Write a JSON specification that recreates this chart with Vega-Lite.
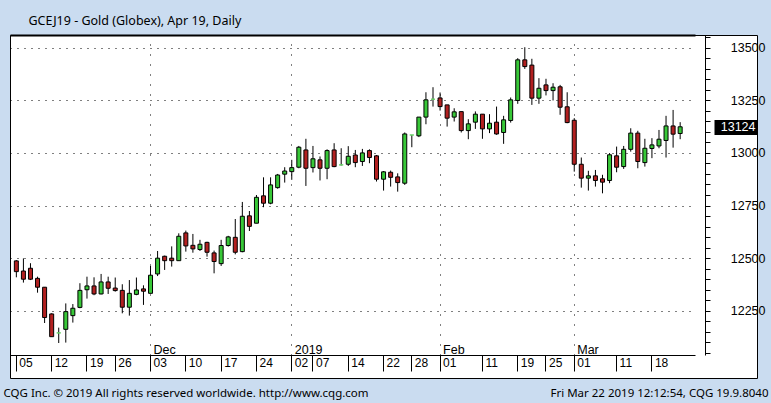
{
  "$schema": "https://vega.github.io/schema/vega-lite/v6.json",
  "width": 747,
  "height": 343,
  "autosize": {"type": "none"},
  "padding": {"left": 10, "top": 35, "right": 14, "bottom": 25},
  "background": "#cadcf0",
  "config": {
    "view": {"fill": "white", "stroke": "#000", "strokeWidth": 1},
    "axis": {"labelFont": "Liberation Sans", "titleFont": "Noto Sans", "labelColor": "#000", "domainColor": "#000", "tickColor": "#000", "titleColor": "#000", "titleFontWeight": "normal"}
  },
  "data": {"values": [
    {"date": "2018-11-05", "open": 12487, "high": 12491, "low": 12409, "close": 12436},
    {"date": "2018-11-06", "open": 12439, "high": 12499, "low": 12384, "close": 12400},
    {"date": "2018-11-07", "open": 12452, "high": 12476, "low": 12396, "close": 12400},
    {"date": "2018-11-08", "open": 12404, "high": 12412, "low": 12336, "close": 12362},
    {"date": "2018-11-09", "open": 12362, "high": 12362, "low": 12192, "close": 12218},
    {"date": "2018-11-12", "open": 12235, "high": 12238, "low": 12127, "close": 12127},
    {"date": "2018-11-13", "open": 12145, "high": 12170, "low": 12097, "close": 12145},
    {"date": "2018-11-14", "open": 12162, "high": 12285, "low": 12099, "close": 12246},
    {"date": "2018-11-15", "open": 12227, "high": 12282, "low": 12194, "close": 12262},
    {"date": "2018-11-16", "open": 12266, "high": 12381, "low": 12262, "close": 12347},
    {"date": "2018-11-19", "open": 12350, "high": 12412, "low": 12308, "close": 12368},
    {"date": "2018-11-20", "open": 12368, "high": 12409, "low": 12324, "close": 12330},
    {"date": "2018-11-21", "open": 12330, "high": 12425, "low": 12328, "close": 12387},
    {"date": "2018-11-23", "open": 12387, "high": 12412, "low": 12330, "close": 12357},
    {"date": "2018-11-26", "open": 12358, "high": 12408, "low": 12341, "close": 12346},
    {"date": "2018-11-27", "open": 12347, "high": 12376, "low": 12238, "close": 12267},
    {"date": "2018-11-28", "open": 12267, "high": 12396, "low": 12227, "close": 12333},
    {"date": "2018-11-29", "open": 12328, "high": 12408, "low": 12324, "close": 12349},
    {"date": "2018-11-30", "open": 12354, "high": 12371, "low": 12278, "close": 12343},
    {"date": "2018-12-03", "open": 12333, "high": 12463, "low": 12333, "close": 12419},
    {"date": "2018-12-04", "open": 12425, "high": 12534, "low": 12415, "close": 12500},
    {"date": "2018-12-05", "open": 12509, "high": 12512, "low": 12444, "close": 12488},
    {"date": "2018-12-06", "open": 12500, "high": 12556, "low": 12460, "close": 12488},
    {"date": "2018-12-07", "open": 12488, "high": 12618, "low": 12488, "close": 12604},
    {"date": "2018-12-10", "open": 12620, "high": 12631, "low": 12531, "close": 12558},
    {"date": "2018-12-11", "open": 12561, "high": 12615, "low": 12526, "close": 12544},
    {"date": "2018-12-12", "open": 12541, "high": 12587, "low": 12534, "close": 12566},
    {"date": "2018-12-13", "open": 12575, "high": 12578, "low": 12507, "close": 12528},
    {"date": "2018-12-14", "open": 12525, "high": 12536, "low": 12428, "close": 12484},
    {"date": "2018-12-17", "open": 12474, "high": 12587, "low": 12463, "close": 12560},
    {"date": "2018-12-18", "open": 12560, "high": 12606, "low": 12555, "close": 12601},
    {"date": "2018-12-19", "open": 12599, "high": 12686, "low": 12518, "close": 12528},
    {"date": "2018-12-20", "open": 12531, "high": 12767, "low": 12528, "close": 12699},
    {"date": "2018-12-21", "open": 12701, "high": 12724, "low": 12629, "close": 12651},
    {"date": "2018-12-24", "open": 12666, "high": 12800, "low": 12666, "close": 12789},
    {"date": "2018-12-26", "open": 12796, "high": 12884, "low": 12742, "close": 12761},
    {"date": "2018-12-27", "open": 12761, "high": 12884, "low": 12756, "close": 12848},
    {"date": "2018-12-28", "open": 12835, "high": 12900, "low": 12830, "close": 12895},
    {"date": "2018-12-31", "open": 12899, "high": 12932, "low": 12859, "close": 12914},
    {"date": "2019-01-02", "open": 12911, "high": 12967, "low": 12872, "close": 12930},
    {"date": "2019-01-03", "open": 12932, "high": 13033, "low": 12927, "close": 13027},
    {"date": "2019-01-04", "open": 13014, "high": 13067, "low": 12843, "close": 12927},
    {"date": "2019-01-07", "open": 12930, "high": 13033, "low": 12907, "close": 12972},
    {"date": "2019-01-08", "open": 12967, "high": 12983, "low": 12869, "close": 12927},
    {"date": "2019-01-09", "open": 12927, "high": 13017, "low": 12875, "close": 13011},
    {"date": "2019-01-10", "open": 13014, "high": 13046, "low": 12932, "close": 12935},
    {"date": "2019-01-11", "open": 12943, "high": 13022, "low": 12940, "close": 12943},
    {"date": "2019-01-14", "open": 12946, "high": 13032, "low": 12938, "close": 12984},
    {"date": "2019-01-15", "open": 12990, "high": 13014, "low": 12932, "close": 12954},
    {"date": "2019-01-16", "open": 12959, "high": 13019, "low": 12938, "close": 13000},
    {"date": "2019-01-17", "open": 13011, "high": 13017, "low": 12951, "close": 12978},
    {"date": "2019-01-18", "open": 12986, "high": 12990, "low": 12864, "close": 12875},
    {"date": "2019-01-22", "open": 12875, "high": 12914, "low": 12821, "close": 12910},
    {"date": "2019-01-23", "open": 12908, "high": 12916, "low": 12840, "close": 12884},
    {"date": "2019-01-24", "open": 12886, "high": 12903, "low": 12816, "close": 12859},
    {"date": "2019-01-25", "open": 12856, "high": 13097, "low": 12848, "close": 13090},
    {"date": "2019-01-28", "open": 13085, "high": 13085, "low": 13027, "close": 13085},
    {"date": "2019-01-29", "open": 13081, "high": 13170, "low": 13075, "close": 13170},
    {"date": "2019-01-30", "open": 13170, "high": 13288, "low": 13136, "close": 13252},
    {"date": "2019-01-31", "open": 13255, "high": 13312, "low": 13220, "close": 13255},
    {"date": "2019-02-01", "open": 13261, "high": 13287, "low": 13201, "close": 13220},
    {"date": "2019-02-04", "open": 13228, "high": 13228, "low": 13125, "close": 13165},
    {"date": "2019-02-05", "open": 13170, "high": 13212, "low": 13149, "close": 13195},
    {"date": "2019-02-06", "open": 13196, "high": 13196, "low": 13097, "close": 13106},
    {"date": "2019-02-07", "open": 13106, "high": 13160, "low": 13065, "close": 13138},
    {"date": "2019-02-08", "open": 13146, "high": 13197, "low": 13114, "close": 13184},
    {"date": "2019-02-11", "open": 13184, "high": 13184, "low": 13067, "close": 13114},
    {"date": "2019-02-12", "open": 13114, "high": 13184, "low": 13094, "close": 13141},
    {"date": "2019-02-13", "open": 13146, "high": 13220, "low": 13086, "close": 13090},
    {"date": "2019-02-14", "open": 13097, "high": 13176, "low": 13043, "close": 13157},
    {"date": "2019-02-15", "open": 13154, "high": 13263, "low": 13144, "close": 13252},
    {"date": "2019-02-19", "open": 13249, "high": 13450, "low": 13233, "close": 13442},
    {"date": "2019-02-20", "open": 13442, "high": 13502, "low": 13399, "close": 13410},
    {"date": "2019-02-21", "open": 13417, "high": 13447, "low": 13228, "close": 13260},
    {"date": "2019-02-22", "open": 13260, "high": 13355, "low": 13233, "close": 13307},
    {"date": "2019-02-25", "open": 13323, "high": 13352, "low": 13273, "close": 13296},
    {"date": "2019-02-26", "open": 13296, "high": 13331, "low": 13249, "close": 13312},
    {"date": "2019-02-27", "open": 13314, "high": 13323, "low": 13181, "close": 13217},
    {"date": "2019-02-28", "open": 13219, "high": 13288, "low": 13141, "close": 13144},
    {"date": "2019-03-01", "open": 13155, "high": 13165, "low": 12911, "close": 12946},
    {"date": "2019-03-04", "open": 12946, "high": 12978, "low": 12835, "close": 12880},
    {"date": "2019-03-05", "open": 12880, "high": 12915, "low": 12821, "close": 12891},
    {"date": "2019-03-06", "open": 12891, "high": 12919, "low": 12840, "close": 12869},
    {"date": "2019-03-07", "open": 12877, "high": 12896, "low": 12808, "close": 12861},
    {"date": "2019-03-08", "open": 12869, "high": 12999, "low": 12856, "close": 12991},
    {"date": "2019-03-11", "open": 12986, "high": 13030, "low": 12908, "close": 12932},
    {"date": "2019-03-12", "open": 12935, "high": 13033, "low": 12924, "close": 13017},
    {"date": "2019-03-13", "open": 13017, "high": 13117, "low": 13006, "close": 13094},
    {"date": "2019-03-14", "open": 13094, "high": 13105, "low": 12927, "close": 12959},
    {"date": "2019-03-15", "open": 12954, "high": 13067, "low": 12935, "close": 13022},
    {"date": "2019-03-18", "open": 13021, "high": 13070, "low": 12975, "close": 13038},
    {"date": "2019-03-19", "open": 13033, "high": 13109, "low": 13022, "close": 13065},
    {"date": "2019-03-20", "open": 13059, "high": 13176, "low": 12978, "close": 13128},
    {"date": "2019-03-21", "open": 13128, "high": 13204, "low": 13025, "close": 13089},
    {"date": "2019-03-22", "open": 13092, "high": 13146, "low": 13065, "close": 13124}
  ]},
  "resolve": {"axis": {"x": "independent", "y": "independent"}},
  "layer": [
    {
      "mark": {"type": "rule", "color": "#000", "strokeWidth": 1},
      "encoding": {
        "x": {
          "field": "date", "type": "ordinal",
          "scale": {"type": "band", "range": [0, 685], "paddingInner": 0, "paddingOuter": 1.428, "align": 0.2, "round": false},
          "axis": {
            "orient": "bottom", "offset": -23,
            "values": ["2018-11-05", "2018-11-12", "2018-11-19", "2018-11-26", "2018-12-03", "2018-12-10", "2018-12-17", "2018-12-24", "2019-01-02", "2019-01-07", "2019-01-14", "2019-01-22", "2019-01-28", "2019-02-01", "2019-02-11", "2019-02-19", "2019-02-25", "2019-03-01", "2019-03-11", "2019-03-18"],
            "labelExpr": "substring(datum.value, 8, 10)",
            "labelAngle": 0, "labelAlign": "left", "labelBaseline": "top", "labelOffset": 3,
            "labelPadding": -14, "tickSize": 16, "labelFontSize": 12, "labelOverlap": false, "labelBound": false, "labelFlush": false,
            "grid": false, "domain": true, "domainWidth": 1,
            "title": "CQG Inc. © 2019 All rights reserved worldwide. http://www.cqg.com",
            "titleX": -7, "titleY": 41, "titleAlign": "left", "titleBaseline": "alphabetic", "titleFontSize": 11.5, "titleFont": "Noto Sans"
          }
        },
        "y": {
          "field": "low", "type": "quantitative",
          "scale": {"domain": [12040, 13560], "range": [320, 0], "zero": false, "nice": false},
          "axis": {
            "orient": "right", "offset": -52,
            "values": [12050, 12100, 12150, 12200, 12250, 12300, 12350, 12400, 12450, 12500, 12550, 12600, 12650, 12700, 12750, 12800, 12850, 12900, 12950, 13000, 13050, 13100, 13150, 13200, 13250, 13300, 13350, 13400, 13450, 13500, 13550],
            "format": "d",
            "labelExpr": "datum.value % 250 == 0 ? datum.label : ''",
            "tickSize": 5, "labelAlign": "right", "labelPadding": 55, "labelBaseline": "middle", "labelFontSize": 12.5,
            "grid": false, "title": null, "labelOverlap": false, "labelBound": false, "labelFlush": false
          }
        },
        "y2": {"field": "high"}
      }
    },
    {
      "transform": [{"filter": "datum.close >= datum.open"}],
      "mark": {"type": "bar", "width": 4, "fill": "#38c838", "strokeWidth": 1},
      "encoding": {
        "x": {
          "field": "date", "type": "ordinal",
          "axis": {
            "orient": "bottom", "offset": -23,
            "values": ["2018-12-03", "2019-01-02", "2019-02-01", "2019-03-01"],
            "labelExpr": "substring(datum.value,5,7) == '12' ? 'Dec' : substring(datum.value,5,7) == '01' ? '2019' : substring(datum.value,5,7) == '02' ? 'Feb' : 'Mar'",
            "labelAngle": 0, "labelAlign": "left", "labelBaseline": "alphabetic", "labelOffset": 3,
            "ticks": false, "tickSize": 0, "labelPadding": -2, "labelFontSize": 12.5, "labelOverlap": false, "labelBound": false, "labelFlush": false,
            "grid": false, "domain": false,
            "title": "Fri Mar 22 2019 12:12:54, CQG 19.9.8040",
            "titleX": 758, "titleY": 41, "titleAlign": "right", "titleBaseline": "alphabetic", "titleFontSize": 11.5, "titleFont": "Noto Sans"
          }
        },
        "y": {
          "field": "open", "type": "quantitative",
          "axis": {
            "orient": "left", "values": [12250, 12500, 12750, 13000, 13250, 13500],
            "grid": true, "gridColor": "#000", "gridDash": [1, 6], "gridOpacity": 1, "gridWidth": 1,
            "ticks": false, "labels": false, "domain": false, "title": null
          }
        },
        "y2": {"field": "close"},
        "stroke": {"condition": {"test": "datum.open == datum.close", "value": "#66d066"}, "value": "#000"}
      }
    },
    {
      "transform": [{"filter": "datum.close < datum.open"}],
      "mark": {"type": "bar", "width": 4, "fill": "#b22020", "stroke": "#000", "strokeWidth": 1},
      "encoding": {
        "x": {
          "field": "date", "type": "ordinal",
          "axis": {
            "orient": "top",
            "values": ["2018-12-03", "2019-01-02", "2019-02-01", "2019-03-01"],
            "labels": false, "ticks": false, "domain": true, "domainWidth": 2,
            "grid": true, "gridColor": "#000", "gridDash": [1, 9], "gridOpacity": 1, "gridWidth": 1,
            "title": "GCEJ19 - Gold (Globex), Apr 19, Daily",
            "titleX": 18, "titleY": -11, "titleAlign": "left", "titleBaseline": "alphabetic", "titleFontSize": 12.5, "titleFont": "Noto Sans"
          }
        },
        "y": {
          "field": "open", "type": "quantitative",
          "axis": {
            "orient": "right", "offset": -43, "values": [13124], "format": "d",
            "tickSize": 43, "tickWidth": 15, "tickColor": "#000",
            "labelColor": "#fff", "labelAlign": "right", "labelPadding": -2, "labelBaseline": "middle", "labelFontSize": 12.5,
            "domain": false, "grid": false, "title": null, "labelBound": false, "labelFlush": false
          }
        },
        "y2": {"field": "close"}
      }
    }
  ]
}
